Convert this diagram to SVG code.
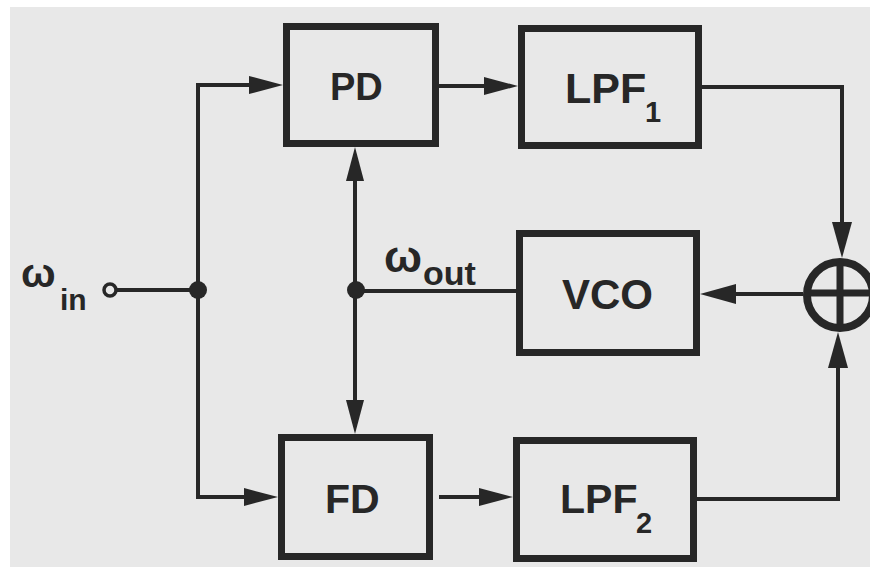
<svg xmlns="http://www.w3.org/2000/svg" width="870" height="567" viewBox="0 0 870 567">
<style>
.box{fill:none;stroke:#272727;stroke-width:7}
.ln{fill:none;stroke:#272727;stroke-width:4}
.lbl{font-family:"Liberation Sans",Arial,sans-serif;font-weight:bold;fill:#272727}
.dot{fill:#272727}
</style>
<defs>
<marker id="ah" viewBox="0 0 34 18" refX="0" refY="9" markerWidth="34" markerHeight="18" markerUnits="userSpaceOnUse" orient="auto-start-reverse"><path d="M0,0 L34,9 L0,18 Z" fill="#272727"/></marker>
<marker id="ahL" viewBox="0 0 36 20" refX="0" refY="10" markerWidth="36" markerHeight="20" markerUnits="userSpaceOnUse" orient="auto-start-reverse"><path d="M0,0 L36,10 L0,20 Z" fill="#272727"/></marker>
</defs>
<rect x="0" y="0" width="870" height="567" fill="#ffffff"/>
<rect x="10" y="7" width="860" height="560" fill="#e8e8e8"/>

<g id="connectors">
<line class="ln" x1="116" y1="290" x2="198" y2="290"/>
<line class="ln" x1="198" y1="83" x2="198" y2="499"/>
<path class="ln" d="M196,85 H249" marker-end="url(#ah)"/>
<path class="ln" d="M196,497 H244" marker-end="url(#ah)"/>
<path class="ln" d="M355,181 V400" marker-start="url(#ah)" marker-end="url(#ah)"/>
<line class="ln" x1="356" y1="291" x2="516" y2="291"/>
<path class="ln" d="M439,86 H484" marker-end="url(#ah)"/>
<path class="ln" d="M439,497 H479" marker-end="url(#ah)"/>
<path class="ln" d="M702,87 H842 V222" marker-end="url(#ahL)"/>
<path class="ln" d="M697,499 H838 V368" marker-end="url(#ahL)"/>
<path class="ln" d="M803,294 H736" marker-end="url(#ahL)"/>
<circle class="dot" cx="198" cy="290" r="9"/>
<circle class="dot" cx="356" cy="290" r="9"/>
</g>

<g id="input">
<circle cx="110" cy="290" r="6" fill="#e8e8e8" stroke="#272727" stroke-width="3.5"/>
<text class="lbl" x="21" y="287" font-size="41">ω</text>
<text class="lbl" x="60" y="310" font-size="30">in</text>
</g>

<g id="output-label">
<text class="lbl" x="384" y="272" font-size="45">ω</text>
<text class="lbl" x="423" y="285" font-size="34">out</text>
</g>

<g id="PD">
<rect class="box" x="286.5" y="26.5" width="149" height="117"/>
<text class="lbl" x="330" y="100" font-size="38">PD</text>
</g>

<g id="LPF1">
<rect class="box" x="521.5" y="28.5" width="177" height="117"/>
<text class="lbl" x="565" y="103" font-size="43">LPF</text>
<text class="lbl" x="645" y="122" font-size="29">1</text>
</g>

<g id="VCO">
<rect class="box" x="519.5" y="233.5" width="177" height="119"/>
<text class="lbl" x="562" y="309" font-size="42">VCO</text>
</g>

<g id="FD">
<rect class="box" x="281.5" y="437.5" width="148" height="119"/>
<text class="lbl" x="325" y="513" font-size="41">FD</text>
</g>

<g id="LPF2">
<rect class="box" x="516.5" y="440.5" width="177" height="118"/>
<text class="lbl" x="560" y="513" font-size="41">LPF</text>
<text class="lbl" x="636" y="533" font-size="29">2</text>
</g>

<g id="summer">
<circle cx="840" cy="295" r="33" fill="#e8e8e8" stroke="#272727" stroke-width="8"/>
<line x1="807" y1="293" x2="873" y2="293" stroke="#272727" stroke-width="7"/>
<line x1="840" y1="262" x2="840" y2="328" stroke="#272727" stroke-width="7"/>
</g>
</svg>
